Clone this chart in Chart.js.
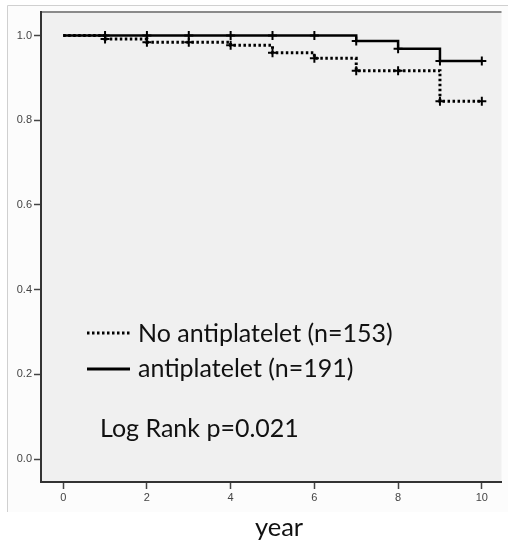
<!DOCTYPE html>
<html>
<head>
<meta charset="utf-8">
<script src="https://cdn.jsdelivr.net/npm/chart.js@4.4.0/dist/chart.umd.min.js"></script>
<style>
  html, body { margin: 0; padding: 0; background: #ffffff; }
  #wrap { width: 508px; height: 541px; position: relative; }
</style>
</head>
<body>
<div id="wrap"><canvas id="kmChart"></canvas></div>
<script>
// data
const years = [0, 1, 2, 3, 4, 5, 6, 7, 8, 9, 10];
const noAntiplatelet = [1.0, 0.992, 0.984, 0.984, 0.977, 0.959, 0.946, 0.917, 0.917, 0.845, 0.845];
const antiplatelet = [1.0, 1.0, 1.0, 1.0, 1.0, 1.0, 1.0, 0.987, 0.969, 0.940, 0.940];
const censorRadius = [0, 4.5, 4.5, 4.5, 4.5, 4.5, 4.5, 4.5, 4.5, 4.5, 4.5];
const xTicks = [0, 2, 4, 6, 8, 10];
const yTicks = [0, 0.2, 0.4, 0.6, 0.8, 1.0];
const seriesLabels = ['No antiplatelet (n=153)', 'antiplatelet (n=191)'];
const pValueText = 'Log Rank p=0.021';
const xTitle = 'year';

const txtFont = 'Lato, "Open Sans", sans-serif';

// frame + grey plot background
const backdrop = {
  id: 'backdrop',
  beforeDraw(chart) {
    const { ctx, chartArea: a } = chart;
    ctx.save();
    ctx.fillStyle = '#fcfcfc';
    ctx.fillRect(8, 6, 500, 506);
    ctx.strokeStyle = '#d0d0d0';
    ctx.lineWidth = 1;
    ctx.beginPath();
    ctx.moveTo(7.5, 512);
    ctx.lineTo(7.5, 5.5);
    ctx.lineTo(508, 5.5);
    ctx.stroke();
    ctx.fillStyle = '#f0f0f0';
    ctx.fillRect(a.left, a.top, a.right - a.left, a.bottom - a.top);
    ctx.strokeStyle = '#8a8a8a';
    ctx.lineWidth = 2;
    ctx.beginPath();
    ctx.moveTo(a.left, a.top);
    ctx.lineTo(a.right, a.top);
    ctx.stroke();
    ctx.restore();
  }
};

// legend inside the plot, p-value and axis title
const notes = {
  id: 'notes',
  afterDraw(chart) {
    const { ctx } = chart;
    ctx.save();
    ctx.strokeStyle = '#000';
    ctx.lineWidth = 3;
    ctx.setLineDash([2.5, 2.5]);
    ctx.beginPath();
    ctx.moveTo(87, 333);
    ctx.lineTo(130, 333);
    ctx.stroke();
    ctx.setLineDash([]);
    ctx.beginPath();
    ctx.moveTo(87, 369);
    ctx.lineTo(130, 369);
    ctx.stroke();

    ctx.fillStyle = '#111';
    ctx.textBaseline = 'alphabetic';
    ctx.textAlign = 'left';
    ctx.font = '25px ' + txtFont;
    ctx.fillText(seriesLabels[0], 138, 342);
    ctx.fillText(seriesLabels[1], 138, 377);
    ctx.fillText(pValueText, 100, 437);
    ctx.font = '25.5px ' + txtFont;
    ctx.textAlign = 'center';
    ctx.fillText(xTitle, 279, 536);
    ctx.restore();
  }
};

const ctx = document.getElementById('kmChart').getContext('2d');
new Chart(ctx, {
  type: 'line',
  data: {
    labels: years,
    datasets: [
      {
        label: seriesLabels[0],
        data: years.map((t, i) => ({ x: t, y: noAntiplatelet[i] })),
        stepped: 'before',
        borderColor: '#000',
        borderWidth: 3,
        borderDash: [2.5, 2.5],
        pointStyle: 'cross',
        pointRadius: censorRadius,
        pointBorderWidth: 2,
        pointBorderColor: '#000',
        fill: false
      },
      {
        label: seriesLabels[1],
        data: years.map((t, i) => ({ x: t, y: antiplatelet[i] })),
        stepped: 'before',
        borderColor: '#000',
        borderWidth: 2.5,
        pointStyle: 'cross',
        pointRadius: censorRadius,
        pointBorderWidth: 2,
        pointBorderColor: '#000',
        fill: false
      }
    ]
  },
  options: {
    responsive: true,
    maintainAspectRatio: false,
    animation: false,
    layout: { padding: { left: 0, right: 0, top: 12, bottom: 0 } },
    plugins: {
      legend: { display: false },
      tooltip: { enabled: false }
    },
    scales: {
      x: {
        type: 'linear',
        min: -0.53,
        max: 10.47,
        afterBuildTicks: s => { s.ticks = xTicks.map(v => ({ value: v })); },
        afterFit: s => { s.height = 59; },
        grid: { drawOnChartArea: false, drawTicks: true, tickLength: 7, tickColor: '#444', tickWidth: 1.5 },
        border: { color: '#333', width: 2 },
        ticks: { color: '#444', padding: 2, font: { family: 'Liberation Sans, Arial', size: 11 } }
      },
      y: {
        min: -0.0543,
        max: 1.0555,
        afterBuildTicks: s => { s.ticks = yTicks.map(v => ({ value: v })); },
        afterFit: s => { s.width = 41; },
        grid: { drawOnChartArea: false, drawTicks: true, tickLength: 7, tickColor: '#444', tickWidth: 1.5 },
        border: { color: '#333', width: 2 },
        ticks: {
          color: '#444',
          padding: 2,
          font: { family: 'Liberation Sans, Arial', size: 11 },
          callback: v => v.toFixed(1)
        }
      }
    }
  },
  plugins: [backdrop, notes]
});
</script>
</body>
</html>
